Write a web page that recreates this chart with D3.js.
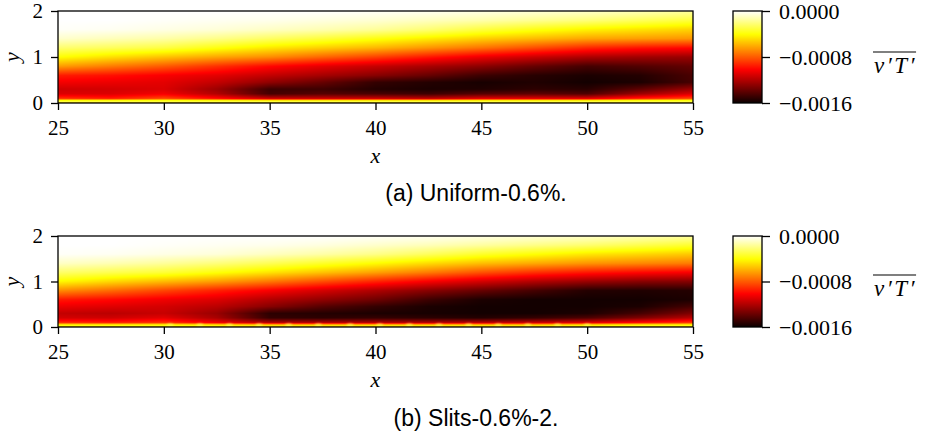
<!DOCTYPE html>
<html>
<head>
<meta charset="utf-8">
<script src="https://cdn.jsdelivr.net/npm/d3@7"></script>
<style>
  body { margin: 0; background: #fff; }
  svg { display: block; }
</style>
</head>
<body>
<script>
// grid of the field, x along the plate and y above the wall
const xGrid = [25, 27.5, 30, 32.5, 35, 37.5, 40, 42.5, 45, 47.5, 50, 52.5, 55];
const yGrid = [0, 0.04, 0.1, 0.2, 0.3, 0.45, 0.6, 0.8, 1.0, 1.2, 1.4, 1.6, 1.8, 2.0];

// v'T', in units of 1e-4, one row per yGrid value (bottom first)
const uniformField = [
  [-6, -6, -6, -6, -6, -6, -6, -6, -6, -6, -6, -6, -6],
  [-2.5, -2.5, -2.5, -2.5, -2.5, -2.5, -2.5, -2.5, -2.5, -2.5, -2.5, -2.5, -2.5],
  [-9.0, -9.5, -8.5, -10.0, -11.5, -11.5, -11.5, -11.8, -11.0, -11.0, -11.0, -9.5, -8.5],
  [-11.0, -11.0, -10.4, -12.0, -14.6, -14.2, -14.5, -14.8, -14.2, -14.0, -14.4, -12.5, -11.0],
  [-11.3, -11.2, -11.0, -12.5, -14.8, -14.8, -15.4, -15.6, -15.5, -15.2, -15.3, -14.0, -12.5],
  [-10.4, -10.6, -10.8, -11.6, -12.8, -13.8, -15.0, -15.4, -15.7, -15.5, -15.8, -15.6, -14.6],
  [-9.5, -9.8, -10.3, -10.8, -11.6, -12.3, -13.0, -13.8, -14.8, -15.3, -15.6, -15.4, -14.5],
  [-6.4, -7.2, -8.0, -9.0, -10.0, -10.8, -11.5, -12.2, -12.9, -13.8, -14.6, -14.3, -13.9],
  [-4.0, -4.8, -5.5, -6.2, -6.8, -7.7, -8.6, -9.6, -10.6, -11.4, -12.1, -12.4, -12.6],
  [-2.3, -2.6, -3.0, -3.8, -4.6, -5.2, -5.8, -6.6, -7.4, -8.3, -9.2, -9.7, -10.0],
  [-0.8, -1.1, -1.4, -1.9, -2.5, -3.1, -3.8, -4.5, -5.2, -5.7, -6.2, -6.4, -6.6],
  [-0.1, -0.2, -0.4, -0.6, -0.9, -1.2, -1.6, -2.2, -3.0, -3.7, -4.3, -4.7, -5.1],
  [0, 0, -0.1, -0.2, -0.3, -0.5, -0.7, -1.0, -1.3, -1.7, -2.1, -2.6, -3.1],
  [0, 0, 0, 0, 0, 0, -0.1, -0.2, -0.4, -0.6, -0.8, -1.1, -1.5]
];

const slitsField = [
  [-6, -6, -6, -6, -6, -6, -6, -6, -6, -6, -6, -6, -6],
  [-3.5, -3.5, -3.5, -4, -4.5, -4.5, -4.5, -4.5, -4.5, -4.5, -4, -3.5, -3.5],
  [-9.2, -9.5, -9.0, -10.5, -12.0, -12.0, -12.0, -12.0, -11.8, -11.5, -11.0, -10.0, -9.0],
  [-11.2, -11.3, -10.8, -12.2, -15.0, -15.2, -15.0, -15.2, -15.4, -15.0, -14.4, -13.2, -11.8],
  [-11.6, -11.8, -11.5, -12.6, -15.2, -15.4, -15.6, -15.7, -15.8, -15.8, -15.6, -14.6, -13.2],
  [-10.6, -10.9, -11.2, -11.8, -13.0, -14.2, -15.0, -15.6, -15.8, -15.8, -15.8, -15.6, -14.6],
  [-9.6, -10.0, -10.5, -11.0, -12.0, -12.8, -13.6, -14.8, -15.6, -15.8, -15.8, -15.8, -15.6],
  [-6.8, -7.6, -8.5, -9.4, -10.3, -11.2, -12.1, -13.0, -13.8, -14.6, -15.4, -15.5, -15.4],
  [-4.2, -5.0, -5.7, -6.4, -7.3, -8.3, -9.3, -10.3, -11.2, -12.0, -12.6, -13.0, -13.1],
  [-2.4, -2.8, -3.2, -3.9, -4.7, -5.5, -6.3, -7.2, -8.2, -9.0, -9.6, -10.0, -10.3],
  [-0.9, -1.2, -1.6, -2.1, -2.7, -3.4, -4.1, -4.9, -5.6, -6.1, -6.6, -6.9, -7.2],
  [-0.1, -0.2, -0.4, -0.6, -1.0, -1.4, -1.9, -2.6, -3.4, -4.0, -4.6, -5.0, -5.4],
  [0, 0, -0.1, -0.2, -0.3, -0.5, -0.8, -1.1, -1.5, -1.9, -2.3, -2.8, -3.3],
  [0, 0, 0, 0, 0, 0, -0.1, -0.2, -0.4, -0.6, -0.8, -1.1, -1.5]
];

// bright spots on the wall of the slit case
const slitSpots = [30.3, 31.7, 33.1, 34.5, 35.9, 37.3, 38.8, 40.2, 41.6, 43.0, 44.4, 45.8, 47.2, 48.6, 50.0];

const xTicks = [25, 30, 35, 40, 45, 50, 55];
const yTicks = [0, 1, 2];
const barTicks = [0, -0.0008, -0.0016];
const barTickLabels = ["0.0000", "\u22120.0008", "\u22120.0016"];
const captions = ["(a) Uniform-0.6%.", "(b) Slits-0.6%-2."];

const serif = "'Liberation Serif', 'DejaVu Serif', serif";
const sans = "'Liberation Sans', Arial, sans-serif";

// matplotlib "hot"
function hot(t) {
  var r = t < 0.365079 ? 0.0416 + t / 0.365079 * (1 - 0.0416) : 1;
  var g = t < 0.365079 ? 0 : (t < 0.746032 ? (t - 0.365079) / (0.746032 - 0.365079) : 1);
  var b = t < 0.746032 ? 0 : (t - 0.746032) / (1 - 0.746032);
  return d3.rgb(r * 255, g * 255, b * 255).toString();
}

const color = d3.scaleSequential(hot).domain([-0.0016, 0]).clamp(true);

function clamp01(v) { return Math.max(0, Math.min(1, v)); }

// bilinear look-up in the grid
function sample(field, xv, yv) {
  var i = Math.max(0, Math.min(xGrid.length - 2, d3.bisectRight(xGrid, xv) - 1));
  var j = Math.max(0, Math.min(yGrid.length - 2, d3.bisectRight(yGrid, yv) - 1));
  var fx = clamp01((xv - xGrid[i]) / (xGrid[i + 1] - xGrid[i]));
  var fy = clamp01((yv - yGrid[j]) / (yGrid[j + 1] - yGrid[j]));
  var a = field[j][i], b = field[j][i + 1], c = field[j + 1][i], d = field[j + 1][i + 1];
  return (a * (1 - fx) + b * fx) * (1 - fy) + (c * (1 - fx) + d * fx) * fy;
}

const svg = d3.select("body").append("svg")
  .attr("width", 926)
  .attr("height", 438);

const defs = svg.append("defs");
defs.append("filter").attr("id", "soft")
  .attr("x", "-50%").attr("y", "-100%").attr("width", "200%").attr("height", "300%")
  .append("feGaussianBlur").attr("stdDeviation", 1.2);

const grad = defs.append("linearGradient").attr("id", "bar")
  .attr("x1", 0).attr("y1", 1).attr("x2", 0).attr("y2", 0);
d3.range(0, 1.0001, 0.01).forEach(function (t) {
  grad.append("stop")
    .attr("offset", t)
    .attr("stop-color", color(-0.0016 + t * 0.0016));
});

const panels = [
  { field: uniformField, spots: [], top: 11, bottom: 103, caption: captions[0], labelY: 73, captionY: 201 },
  { field: slitsField, spots: slitSpots, top: 236, bottom: 327, caption: captions[1], labelY: 296, captionY: 426 }
];

const left = 58, right = 693;
const barLeft = 733, barRight = 762;

panels.forEach(function (p, k) {
  const x = d3.scaleLinear().domain([25, 55]).range([left, right]);
  const y = d3.scaleLinear().domain([0, 2]).range([p.bottom, p.top]);
  const g = svg.append("g");

  // field image
  const w = right - left, h = p.bottom - p.top;
  const canvas = document.createElement("canvas");
  canvas.width = w;
  canvas.height = h;
  const ctx = canvas.getContext("2d");
  const img = ctx.createImageData(w, h);
  for (let j = 0; j < h; j++) {
    const yv = y.invert(p.top + j + 0.5);
    for (let i = 0; i < w; i++) {
      const xv = x.invert(left + i + 0.5);
      const c = d3.rgb(color(sample(p.field, xv, yv) * 1e-4));
      const o = (j * w + i) * 4;
      img.data[o] = c.r;
      img.data[o + 1] = c.g;
      img.data[o + 2] = c.b;
      img.data[o + 3] = 255;
    }
  }
  ctx.putImageData(img, 0, 0);
  g.append("image")
    .attr("x", left).attr("y", p.top)
    .attr("width", w).attr("height", h)
    .attr("preserveAspectRatio", "none")
    .attr("href", canvas.toDataURL());

  const clipId = "clip" + k;
  defs.append("clipPath").attr("id", clipId)
    .append("rect").attr("x", left).attr("y", p.top).attr("width", w).attr("height", h);

  g.append("g").attr("clip-path", "url(#" + clipId + ")")
    .selectAll("ellipse").data(p.spots).join("ellipse")
    .attr("cx", d => x(d))
    .attr("cy", y(0.045))
    .attr("rx", 3.5)
    .attr("ry", 1.5)
    .attr("fill", color(-0.00025))
    .attr("opacity", 0.75)
    .attr("filter", "url(#soft)");

  // frame
  g.append("rect")
    .attr("x", left).attr("y", p.top)
    .attr("width", w).attr("height", h)
    .attr("fill", "none").attr("stroke", "#000").attr("stroke-width", 1.3);

  const xAxis = g.append("g")
    .attr("transform", "translate(0," + p.bottom + ")")
    .call(d3.axisBottom(x).tickValues(xTicks).tickFormat(d3.format("d"))
      .tickSize(7).tickSizeOuter(0).tickPadding(10));
  const yAxis = g.append("g")
    .attr("transform", "translate(" + left + ",0)")
    .call(d3.axisLeft(y).tickValues(yTicks).tickFormat(d3.format("d"))
      .tickSize(7).tickSizeOuter(0).tickPadding(8));
  [xAxis, yAxis].forEach(function (a) {
    a.attr("font-family", serif).attr("font-size", 21);
    a.select(".domain").remove();
    a.selectAll(".tick line").attr("stroke-width", 1.3);
    a.selectAll("text").attr("font-family", serif).attr("font-size", 21).attr("fill", "#000");
  });

  g.append("text")
    .attr("x", (left + right) / 2).attr("y", p.bottom + 60)
    .attr("text-anchor", "middle")
    .attr("font-family", serif).attr("font-style", "italic").attr("font-size", 22)
    .text("x");
  g.append("text")
    .attr("transform", "translate(19," + y(1) + ") rotate(-90)")
    .attr("text-anchor", "middle")
    .attr("font-family", serif).attr("font-style", "italic").attr("font-size", 22)
    .text("y");

  // colour bar
  const barY = d3.scaleLinear().domain([-0.0016, 0]).range([p.bottom, p.top]);
  g.append("rect")
    .attr("x", barLeft).attr("y", p.top)
    .attr("width", barRight - barLeft).attr("height", h)
    .attr("fill", "url(#bar)")
    .attr("stroke", "#000").attr("stroke-width", 1.3);
  const barAxis = g.append("g")
    .attr("transform", "translate(" + barRight + ",0)")
    .call(d3.axisRight(barY).tickValues(barTicks)
      .tickFormat((d, i) => barTickLabels[i])
      .tickSize(8).tickSizeOuter(0).tickPadding(9));
  barAxis.attr("font-family", serif).attr("font-size", 22);
  barAxis.select(".domain").remove();
  barAxis.selectAll(".tick line").attr("stroke-width", 1.3);
  barAxis.selectAll("text").attr("font-family", serif).attr("font-size", 22).attr("fill", "#000");

  const lbl = g.append("text")
    .attr("x", 874).attr("y", p.labelY)
    .attr("font-family", serif).attr("font-style", "italic").attr("font-size", 23)
    .attr("letter-spacing", 2.5)
    .text("v\u2032T\u2032");
  const lw = lbl.node().getComputedTextLength();
  g.append("line")
    .attr("x1", 873).attr("x2", 873 + lw)
    .attr("y1", p.labelY - 21).attr("y2", p.labelY - 21)
    .attr("stroke", "#000").attr("stroke-width", 1.1);

  g.append("text")
    .attr("x", 476).attr("y", p.captionY)
    .attr("text-anchor", "middle")
    .attr("font-family", sans).attr("font-size", 23)
    .text(p.caption);
});
</script>
</body>
</html>
